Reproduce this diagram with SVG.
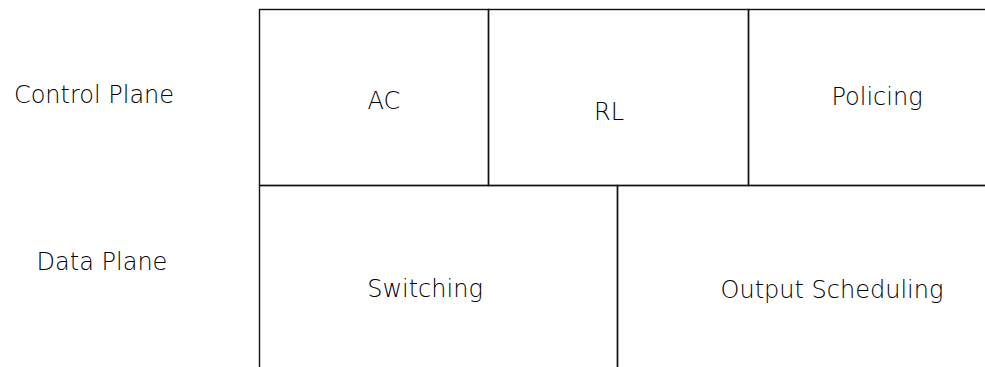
<svg xmlns="http://www.w3.org/2000/svg" width="985" height="367" viewBox="0 0 985 367">
  <style>
    .cell { fill: none; stroke: #111; stroke-width: 1.4; }
    .lbl { font-family: "DejaVu Sans", "Liberation Sans", sans-serif; font-size: 24px; font-weight: 200; fill: #000; text-anchor: middle; }
  </style>
  <rect width="985" height="367" fill="#ffffff"/>

  <!-- plane labels -->
  <g id="control-plane-label">
    <text class="lbl" x="94" y="103">Control Plane</text>
  </g>
  <g id="data-plane-label">
    <text class="lbl" x="102" y="270">Data Plane</text>
  </g>

  <!-- control plane cells (right and bottom edges run past the frame) -->
  <g id="ac">
    <rect class="cell" x="259.5" y="9.5" width="229" height="176"/>
    <text class="lbl" x="384" y="109">AC</text>
  </g>
  <g id="rl">
    <rect class="cell" x="488.5" y="9.5" width="260" height="176"/>
    <text class="lbl" x="609" y="120">RL</text>
  </g>
  <g id="policing">
    <rect class="cell" x="748.5" y="9.5" width="300" height="176"/>
    <text class="lbl" x="877" y="105">Policing</text>
  </g>

  <!-- data plane cells -->
  <g id="switching">
    <rect class="cell" x="259.5" y="185.5" width="358" height="250"/>
    <text class="lbl" x="425" y="297">Switching</text>
  </g>
  <g id="output-scheduling">
    <rect class="cell" x="617.5" y="185.5" width="430" height="250"/>
    <text class="lbl" x="832" y="298">Output Scheduling</text>
  </g>

  <g id="connectors"/>
</svg>
